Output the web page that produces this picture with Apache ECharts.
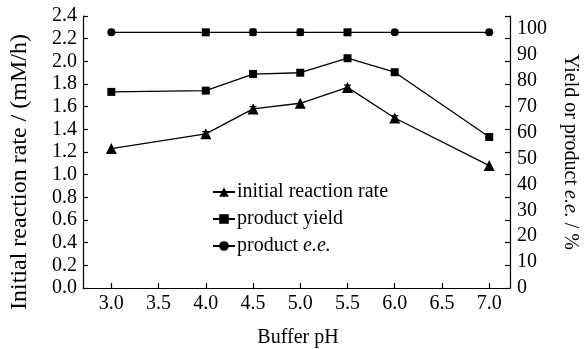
<!DOCTYPE html>
<html>
<head>
<meta charset="utf-8">
<script src="https://cdn.jsdelivr.net/npm/echarts@6/dist/echarts.min.js"></script>
<style>html,body{margin:0;padding:0;background:#fff;}#c{width:588px;height:349px;}</style>
</head>
<body>
<div id="c"></div>
<script>
const ph = [3.0, 4.0, 4.5, 5.0, 5.5, 6.0, 7.0];
const rate = [1.23, 1.36, 1.58, 1.63, 1.77, 1.50, 1.08];
const rateErr = [0, 0.02, 0.02, 0, 0.02, 0.02, 0];
const yieldPct = [75.7, 76.2, 82.6, 83.1, 88.7, 83.3, 58.3];
const ee = [98.7, 98.7, 98.7, 98.7, 98.7, 98.7, 98.7];
const eeErr = [0, 0.8, 1.2, 1.2, 0.8, 0, 0];
const xTicks = [3.0, 3.5, 4.0, 4.5, 5.0, 5.5, 6.0, 6.5, 7.0];
const rightLabels = [0, 10, 20, 30, 40, 50, 60, 70, 80, 90, 100];

const FONT = 'Liberation Serif';
const FS = 20;
const rightTicks = [];
for (let k = 0; k <= 12; k++) rightTicks.push(k * 105 / 12);

const chart = echarts.init(document.getElementById('c'));
const lineStyle = {color: '#000', width: 1.3};
const axisLineStyle = {color: '#000', width: 1.2};

function errSeries(xs, ys, es, axis) {
  return {
    type: 'custom', yAxisIndex: axis, silent: true, z: 1,
    data: xs.map((x, i) => [x, ys[i], es[i]]).filter(d => d[2] > 0),
    renderItem: (params, api) => {
      const x = api.value(0), y = api.value(1), e = api.value(2);
      const top = api.coord([x, y + e]);
      const bot = api.coord([x, y - e]);
      const w = 3.5;
      const st = {stroke: '#000', lineWidth: 1.2};
      return {type: 'group', children: [
        {type: 'line', shape: {x1: top[0], y1: top[1], x2: bot[0], y2: bot[1]}, style: st},
        {type: 'line', shape: {x1: top[0] - w, y1: top[1], x2: top[0] + w, y2: top[1]}, style: st},
        {type: 'line', shape: {x1: bot[0] - w, y1: bot[1], x2: bot[0] + w, y2: bot[1]}, style: st}
      ]};
    }
  };
}

chart.setOption({
  animation: false,
  backgroundColor: '#fff',
  grid: {left: 83, right: 75, top: 16, bottom: 61},
  legend: {
    orient: 'vertical', left: 207, top: 177, itemWidth: 22, itemHeight: 12, itemGap: 7,
    data: ['initial reaction rate', 'product yield', 'product e.e.'],
    formatter: n => n === 'product e.e.' ? 'product {i|e.e.}' : n,
    textStyle: {fontFamily: FONT, fontSize: FS, color: '#000', padding: [0, 0, 0, -3],
      rich: {i: {fontFamily: FONT, fontSize: FS, fontStyle: 'italic', color: '#000'}}}
  },
  xAxis: {
    type: 'value', min: 2.7, max: 7.22,
    splitLine: {show: false},
    axisLine: {lineStyle: axisLineStyle},
    axisTick: {inside: true, length: 5, lineStyle: axisLineStyle, customValues: xTicks},
    axisLabel: {customValues: xTicks, formatter: v => v.toFixed(1), fontFamily: FONT, fontSize: FS, color: '#000', margin: 6}
  },
  yAxis: [
    {
      type: 'value', min: 0, max: 2.4, interval: 0.2, position: 'left',
      splitLine: {show: false},
      axisLine: {show: true, lineStyle: axisLineStyle},
      axisTick: {show: true, inside: true, length: 5, lineStyle: axisLineStyle},
      axisLabel: {formatter: v => v.toFixed(1), fontFamily: FONT, fontSize: FS, color: '#000', margin: 6}
    },
    {
      type: 'value', min: 0, max: 105, position: 'right',
      name: 'Yield or product {i|e.e.} / %', nameLocation: 'middle', nameRotate: -90, nameGap: 50,
      nameTextStyle: {fontFamily: FONT, fontSize: FS, color: '#000',
        rich: {i: {fontFamily: FONT, fontSize: FS, fontStyle: 'italic', color: '#000'}}},
      splitLine: {show: false},
      axisLine: {show: true, lineStyle: axisLineStyle},
      axisTick: {show: true, inside: true, length: 5, lineStyle: axisLineStyle, customValues: rightTicks},
      axisLabel: {customValues: rightLabels, fontFamily: FONT, fontSize: FS, color: '#000', margin: 7}
    }
  ],
  series: [
    errSeries(ph, rate, rateErr, 0),
    errSeries(ph, ee, eeErr, 1),
    {
      name: 'initial reaction rate', type: 'line', yAxisIndex: 0, z: 3,
      data: ph.map((x, i) => [x, rate[i]]),
      symbol: 'triangle', symbolSize: 11, itemStyle: {color: '#000'}, lineStyle
    },
    {
      name: 'product yield', type: 'line', yAxisIndex: 1, z: 3,
      data: ph.map((x, i) => [x, yieldPct[i]]),
      symbol: 'rect', symbolSize: 8, itemStyle: {color: '#000'}, lineStyle
    },
    {
      name: 'product e.e.', type: 'line', yAxisIndex: 1, z: 3,
      data: ph.map((x, i) => (x === 4.0 || x === 5.5) ? {value: [x, ee[i]], symbol: 'rect'} : [x, ee[i]]),
      symbol: 'circle', symbolSize: 8, itemStyle: {color: '#000'}, lineStyle
    }
  ],
  graphic: [
    {type: 'text', x: 20, y: 172, rotation: Math.PI / 2,
      style: {text: 'Initial reaction rate / (mM/h)', fontFamily: FONT, fontSize: 24, fill: '#000', align: 'center', verticalAlign: 'middle'}},
    {type: 'text', x: 298, y: 338,
      style: {text: 'Buffer pH', fontFamily: FONT, fontSize: FS, fill: '#000', align: 'center', verticalAlign: 'middle'}}
  ]
});
</script>
</body>
</html>
